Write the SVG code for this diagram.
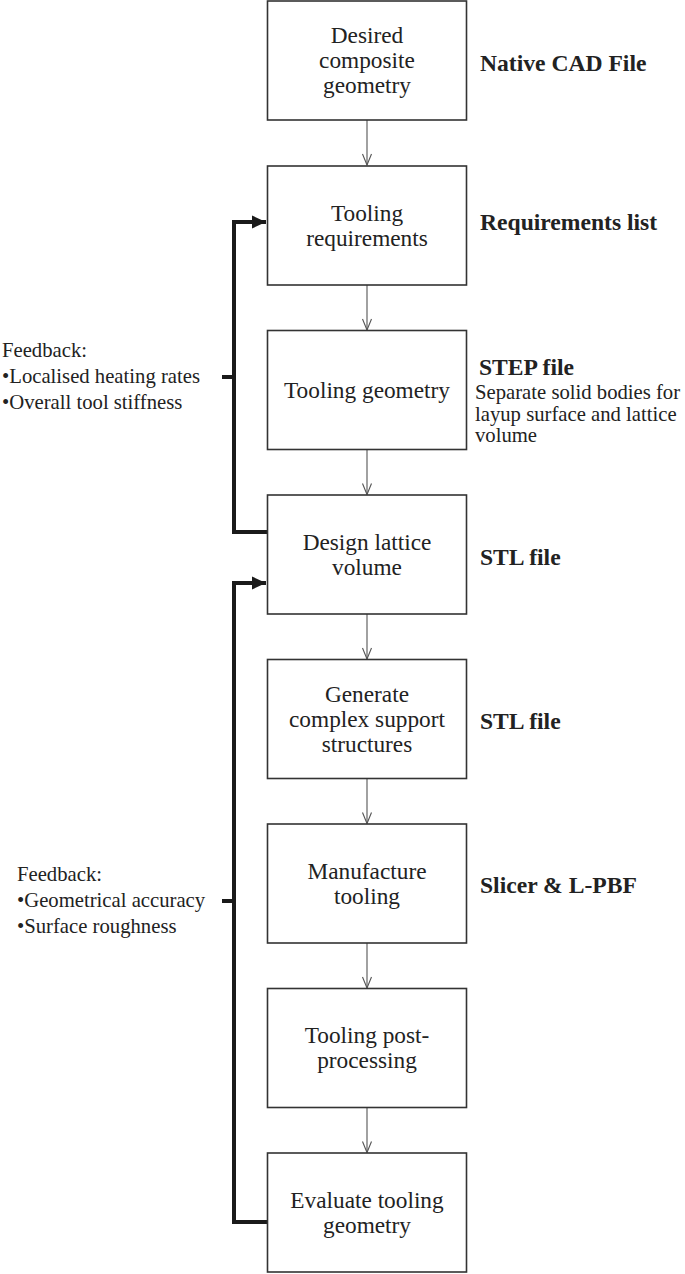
<svg xmlns="http://www.w3.org/2000/svg" width="685" height="1274" viewBox="0 0 685 1274">
<style>
.box{fill:#fff;stroke:#333;stroke-width:1.6}
.t{font-family:"Liberation Serif","Times New Roman",serif;font-size:23.3px;fill:#222;text-anchor:middle}
.b{font-family:"Liberation Serif","Times New Roman",serif;font-size:23.6px;font-weight:bold;fill:#222}
.s{font-family:"Liberation Serif","Times New Roman",serif;font-size:20.7px;fill:#222}
.thin{stroke:#555;stroke-width:1.1;fill:none}
.thick{stroke:#1a1a1a;stroke-width:4;fill:none}
</style>
<defs>
<marker id="open" markerUnits="userSpaceOnUse" markerWidth="14" markerHeight="12" viewBox="-13 -6 14 12" refX="0" refY="0" orient="auto">
<path d="M-11,-4.5 L0,0 L-11,4.5" fill="none" stroke="#555" stroke-width="1.1"/>
</marker>
<marker id="solid" markerUnits="userSpaceOnUse" markerWidth="16" markerHeight="14" viewBox="-15 -7 16 14" refX="0" refY="0" orient="auto">
<polygon points="-14,-6.5 0,0 -14,6.5" fill="#1a1a1a"/>
</marker>
</defs>
<g id="connectors">
<line class="thin" x1="367" y1="120" x2="367" y2="165" marker-end="url(#open)"/>
<line class="thin" x1="367" y1="285" x2="367" y2="330" marker-end="url(#open)"/>
<line class="thin" x1="367" y1="449" x2="367" y2="494.5" marker-end="url(#open)"/>
<line class="thin" x1="367" y1="614" x2="367" y2="659" marker-end="url(#open)"/>
<line class="thin" x1="367" y1="778" x2="367" y2="823.5" marker-end="url(#open)"/>
<line class="thin" x1="367" y1="943" x2="367" y2="988" marker-end="url(#open)"/>
<line class="thin" x1="367" y1="1108" x2="367" y2="1152.5" marker-end="url(#open)"/>
<path class="thick" d="M267,532 H234 V222 H266" marker-end="url(#solid)"/>
<path class="thick" d="M222,377 H234"/>
<path class="thick" d="M267,1222 H234 V583 H266" marker-end="url(#solid)"/>
<path class="thick" d="M222,901 H234"/>
</g>
<g id="n1">
<rect class="box" x="267.5" y="1" width="199" height="119"/>
<text class="t" x="367" y="43">Desired</text>
<text class="t" x="367" y="68">composite</text>
<text class="t" x="367" y="93">geometry</text>
</g>
<g id="n2">
<rect class="box" x="267.5" y="166" width="199" height="119"/>
<text class="t" x="367" y="220.5">Tooling</text>
<text class="t" x="367" y="245.5">requirements</text>
</g>
<g id="n3">
<rect class="box" x="267.5" y="330.5" width="199" height="119"/>
<text class="t" x="367" y="397.5">Tooling geometry</text>
</g>
<g id="n4">
<rect class="box" x="267.5" y="495" width="199" height="119"/>
<text class="t" x="367" y="550">Design lattice</text>
<text class="t" x="367" y="575">volume</text>
</g>
<g id="n5">
<rect class="box" x="267.5" y="659.5" width="199" height="119"/>
<text class="t" x="367" y="701.5">Generate</text>
<text class="t" x="367" y="726.5">complex support</text>
<text class="t" x="367" y="751.5">structures</text>
</g>
<g id="n6">
<rect class="box" x="267.5" y="824" width="199" height="119"/>
<text class="t" x="367" y="878.5">Manufacture</text>
<text class="t" x="367" y="903.5">tooling</text>
</g>
<g id="n7">
<rect class="box" x="267.5" y="988.5" width="199" height="119"/>
<text class="t" x="367" y="1043">Tooling post-</text>
<text class="t" x="367" y="1068">processing</text>
</g>
<g id="n8">
<rect class="box" x="267.5" y="1153" width="199" height="119"/>
<text class="t" x="367" y="1207.5">Evaluate tooling</text>
<text class="t" x="367" y="1232.5">geometry</text>
</g>
<g id="labels">
<text class="b" x="480" y="71">Native CAD File</text>
<text class="b" x="480" y="230">Requirements list</text>
<text class="b" x="479" y="375">STEP file</text>
<text class="s" x="475" y="399">Separate solid bodies for</text>
<text class="s" x="475" y="421">layup surface and lattice</text>
<text class="s" x="475" y="442">volume</text>
<text class="b" x="480" y="565">STL file</text>
<text class="b" x="480" y="729">STL file</text>
<text class="b" x="480" y="893">Slicer &amp; L-PBF</text>
</g>
<g id="feedback1">
<text class="s" x="2" y="357">Feedback:</text>
<text class="s" x="2" y="383">•Localised heating rates</text>
<text class="s" x="2" y="409">•Overall tool stiffness</text>
</g>
<g id="feedback2">
<text class="s" x="17" y="881">Feedback:</text>
<text class="s" x="17" y="907">•Geometrical accuracy</text>
<text class="s" x="17" y="933">•Surface roughness</text>
</g>
</svg>
